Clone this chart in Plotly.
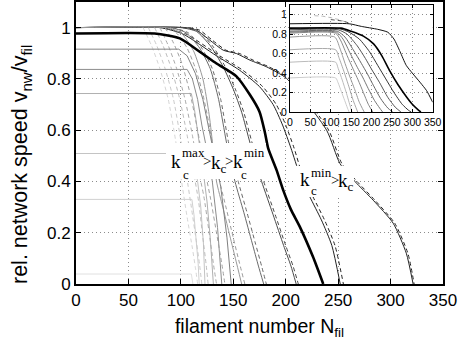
import plotly.graph_objects as go

# ---------------- data: main panel (filament number N, rel. speed v) ----------------
m1_n = [0, 110, 111.5]
m1_v = [0.039, 0.039, 0]
m2_n = [0, 110.5, 112.5, 114.5, 116.5, 117.5]
m2_v = [0.33, 0.33, 0.27, 0.18, 0.08, 0]
m3_n = [0, 110, 113, 116, 119, 121.5, 123]
m3_v = [0.509, 0.509, 0.46, 0.40, 0.30, 0.16, 0]
m4_n = [0, 110, 113, 116, 118, 121, 125, 128, 131]
m4_v = [0.743, 0.743, 0.68, 0.60, 0.53, 0.45, 0.32, 0.18, 0]
m5_n = [0, 106, 111, 116, 120, 125, 130, 135, 139]
m5_v = [0.837, 0.837, 0.80, 0.72, 0.62, 0.52, 0.40, 0.22, 0]
m6_n = [0, 98, 106, 114, 121, 127, 132, 138, 144, 148]
m6_v = [0.916, 0.916, 0.89, 0.82, 0.72, 0.60, 0.50, 0.38, 0.18, 0]
m7_n = [0, 85, 100, 112, 121, 127, 131, 134, 140, 146, 152, 158]
m7_v = [1.0, 1.0, 0.98, 0.91, 0.80, 0.66, 0.52, 0.40, 0.30, 0.20, 0.10, 0]
m8_n = [0, 90, 105, 118, 128, 136, 143.6, 151.6, 160, 168, 174, 179]
m8_v = [1.0, 1.0, 0.98, 0.92, 0.84, 0.72, 0.55, 0.40, 0.28, 0.16, 0.07, 0]
m9_n = [0, 100, 115, 128, 140, 150, 158, 166, 177, 188, 198, 205, 210]
m9_v = [1.0, 1.0, 0.985, 0.93, 0.85, 0.76, 0.67, 0.55, 0.40, 0.27, 0.15, 0.07, 0]
m10_n = [0, 75, 99, 118, 134, 153, 166, 175, 180, 183.3, 191.3, 197.6, 205, 213.5, 226, 235.8]
m10_v = [0.977, 0.977, 0.958, 0.906, 0.86, 0.81, 0.737, 0.672, 0.594, 0.529, 0.444, 0.366, 0.29, 0.223, 0.106, 0]
m11_n = [0, 80, 102, 134, 156, 175, 188, 197, 205, 213.5, 223, 234, 244, 252]
m11_v = [1.0, 1.0, 0.975, 0.89, 0.834, 0.77, 0.70, 0.62, 0.53, 0.425, 0.34, 0.25, 0.15, 0]
m12_n = [0, 105, 115, 127.7, 140.4, 153, 166, 181.8, 200.8, 239, 251.7, 266, 283.4, 302.5, 315, 321.5]
m12_v = [1.0, 1.0, 0.99, 0.951, 0.912, 0.899, 0.873, 0.847, 0.802, 0.60, 0.47, 0.40, 0.327, 0.237, 0.12, 0]

# dashed companions
d2_n = [64, 72, 80, 88, 95, 100.7, 106, 111, 114, 116]
d2_v = [1.0, 0.93, 0.84, 0.72, 0.56, 0.40, 0.26, 0.14, 0.06, 0]
d3_n = [69, 77, 85, 93, 100, 105.5, 110, 115, 118, 120]
d3_v = [1.0, 0.93, 0.84, 0.72, 0.56, 0.42, 0.30, 0.16, 0.07, 0]
d4_n = [75, 83, 91, 99, 106, 112, 117, 121, 124, 126]
d4_v = [1.0, 0.93, 0.84, 0.72, 0.58, 0.44, 0.32, 0.18, 0.08, 0]
d5_n = [80, 88, 96, 104, 111, 117, 122, 127, 131, 134]
d5_v = [1.0, 0.93, 0.84, 0.72, 0.58, 0.44, 0.34, 0.20, 0.08, 0]
d6_n = [85, 93, 101, 109, 116, 122, 128, 134, 139, 142]
d6_v = [1.0, 0.94, 0.86, 0.74, 0.60, 0.46, 0.34, 0.20, 0.08, 0]
d7_n = [90, 98, 106, 114, 121, 127, 132, 137, 143, 150, 156, 161]
d7_v = [1.0, 0.97, 0.92, 0.84, 0.74, 0.62, 0.50, 0.40, 0.30, 0.18, 0.08, 0]
d8_n = [92, 107, 120, 130, 138, 145.6, 154.7, 163, 171, 177, 181.5]
d8_v = [1.0, 0.98, 0.92, 0.84, 0.72, 0.55, 0.40, 0.28, 0.16, 0.07, 0]
d9_n = [102, 117, 130, 142, 152, 160, 168, 179, 190, 200, 207, 212]
d9_v = [1.0, 0.985, 0.93, 0.85, 0.76, 0.67, 0.55, 0.40, 0.27, 0.15, 0.07, 0]
d11_n = [84, 105, 137, 159, 178, 191, 200, 208, 216, 226, 237, 247, 255]
d11_v = [1.0, 0.975, 0.89, 0.834, 0.77, 0.70, 0.62, 0.53, 0.425, 0.34, 0.25, 0.15, 0]
d12_n = [108, 118, 130, 143, 156, 169, 184, 203, 241, 253.5, 268, 285, 304, 316.5, 322.5]
d12_v = [1.0, 0.99, 0.951, 0.912, 0.899, 0.873, 0.847, 0.802, 0.60, 0.47, 0.40, 0.327, 0.237, 0.12, 0]

# ---------------- data: inset ----------------
i1_n = [0, 145, 175, 215, 240, 255, 270, 285, 300, 320, 335, 350]
i1_v = [0.907, 0.907, 0.88, 0.85, 0.82, 0.75, 0.62, 0.48, 0.40, 0.30, 0.22, 0.10]
i2_n = [0, 125, 150, 180, 205, 225, 245, 265, 285, 300, 315, 321]
i2_v = [0.862, 0.862, 0.83, 0.78, 0.70, 0.58, 0.42, 0.28, 0.16, 0.08, 0.02, 0]
i3_n = [0, 122, 145, 170, 195, 215, 235, 255, 275, 290, 297]
i3_v = [0.855, 0.855, 0.82, 0.75, 0.62, 0.48, 0.34, 0.20, 0.08, 0.02, 0]
i4_n = [0, 118, 140, 165, 185, 200, 220, 240, 258, 272]
i4_v = [0.845, 0.845, 0.80, 0.68, 0.55, 0.44, 0.30, 0.15, 0.05, 0]
i5_n = [0, 116, 135, 155, 175, 190, 205, 222, 240, 252]
i5_v = [0.83, 0.83, 0.77, 0.64, 0.50, 0.39, 0.27, 0.14, 0.04, 0]
i6_n = [0, 114, 130, 148, 165, 178, 192, 207, 220, 227]
i6_v = [0.82, 0.82, 0.75, 0.60, 0.46, 0.36, 0.24, 0.12, 0.04, 0]
i7_n = [0, 112, 125, 140, 155, 167, 180, 192, 203]
i7_v = [0.81, 0.81, 0.73, 0.58, 0.44, 0.33, 0.20, 0.08, 0]
i8_n = [0, 110, 122, 135, 147, 158, 170, 182]
i8_v = [0.77, 0.77, 0.66, 0.50, 0.36, 0.24, 0.10, 0]
i9_n = [0, 112, 120, 132, 143, 155, 166]
i9_v = [0.64, 0.64, 0.56, 0.42, 0.28, 0.12, 0]
i10_n = [0, 112, 118, 128, 138, 147, 152]
i10_v = [0.512, 0.512, 0.45, 0.33, 0.20, 0.07, 0]
i11_n = [0, 112, 118, 126, 134, 141, 145]
i11_v = [0.35, 0.35, 0.30, 0.21, 0.12, 0.04, 0]
id1_n = [60, 80, 100, 120, 140]
id1_v = [0.99, 0.985, 0.97, 0.95, 0.92]
id2_n = [100, 115, 130, 145]
id2_v = [0.95, 0.945, 0.935, 0.915]

x_ticks = [0, 50, 100, 150, 200, 250, 300, 350]
y_ticks = [0, 0.2, 0.4, 0.6, 0.8, 1]
y_ticklabels = ["0", "0.2", "0.4", "0.6", "0.8", "1"]

# ---------------- figure ----------------
W, H = 459, 346
ML, MR, MT, MB = 76, 16, 2, 62
PW, PH = W - ML - MR, H - MT - MB

def px(x, y):
    return (x - ML) / PW, (H - MB - y) / PH

fig = go.Figure()

def add(n, v, color, width=1.0, dash="solid", xa="x", ya="y", smooth=False):
    line = dict(color=color, width=width, dash=dash)
    if smooth:
        line.update(shape="spline", smoothing=0.6)
    fig.add_trace(go.Scatter(x=n, y=v, mode="lines", xaxis=xa, yaxis=ya, line=line,
                             showlegend=False, hoverinfo="skip"))

DASH = "4px,3px"
# main: dark ones first so the grey plateau at 1 lies on top (as in the reference)
add(d12_n, d12_v, "#222222", dash=DASH, smooth=True)
add(m12_n, m12_v, "#222222", smooth=True)
add(d11_n, d11_v, "#222222", dash=DASH, smooth=True)
add(m11_n, m11_v, "#222222", smooth=True)
add(d9_n, d9_v, "#4a4a4a", dash=DASH, smooth=True)
add(m9_n, m9_v, "#4a4a4a", smooth=True)
add(d8_n, d8_v, "#6a6a6a", dash=DASH, smooth=True)
add(m8_n, m8_v, "#6a6a6a", smooth=True)
add(d7_n, d7_v, "#9c9c9c", dash=DASH, smooth=True)
add(m7_n, m7_v, "#999999", smooth=True)
add(m1_n, m1_v, "#e0e0e0")
add(d2_n, d2_v, "#d6d6d6", dash=DASH, smooth=True)
add(m2_n, m2_v, "#d0d0d0")
add(d3_n, d3_v, "#cacaca", dash=DASH, smooth=True)
add(m3_n, m3_v, "#c4c4c4")
add(d4_n, d4_v, "#bdbdbd", dash=DASH, smooth=True)
add(m4_n, m4_v, "#b0b0b0")
add(d5_n, d5_v, "#aaaaaa", dash=DASH, smooth=True)
add(m5_n, m5_v, "#8c8c8c")
add(d6_n, d6_v, "#a0a0a0", dash=DASH, smooth=True)
add(m6_n, m6_v, "#808080")
add(m10_n, m10_v, "#000000", width=2.6, smooth=True)

# inset
for n, v, c in [(i11_n, i11_v, "#cccccc"), (i10_n, i10_v, "#bbbbbb"),
                (i9_n, i9_v, "#aaaaaa"), (i8_n, i8_v, "#9a9a9a"),
                (i7_n, i7_v, "#888888"), (i6_n, i6_v, "#777777"),
                (i5_n, i5_v, "#666666"), (i4_n, i4_v, "#555555"),
                (i3_n, i3_v, "#333333")]:
    add(n, v, c, xa="x2", ya="y2", smooth=True)
add(id1_n, id1_v, "#bbbbbb", dash=DASH, xa="x2", ya="y2")
add(id2_n, id2_v, "#555555", dash=DASH, xa="x2", ya="y2")
add(i2_n, i2_v, "#000000", width=1.6, xa="x2", ya="y2", smooth=True)
add(i1_n, i1_v, "#111111", xa="x2", ya="y2", smooth=True)

FONT = "Liberation Sans, Arial, sans-serif"
SERIF = "Liberation Serif, Times New Roman, serif"

ax_common = dict(ticks="inside", tickcolor="black", showline=True, linecolor="black",
                 mirror="ticks", showgrid=True, gridcolor="#8c8c8c", griddash="1px,3px",
                 gridwidth=1, zeroline=False)

fig.update_layout(
    width=W, height=H,
    margin=dict(l=ML, r=MR, t=MT, b=MB, autoexpand=False),
    paper_bgcolor="white", plot_bgcolor="white",
    font=dict(family=FONT, color="black"),
    xaxis=dict(range=[0, 350], tickvals=x_ticks, ticklen=5, linewidth=1.8,
               tickfont=dict(size=17), domain=[0, 1],
               title=dict(text="filament number N<sub>fil</sub>", font=dict(size=19.5), standoff=10),
               **ax_common),
    yaxis=dict(range=[0, 1.1], tickvals=y_ticks, ticktext=y_ticklabels, ticklen=5,
               linewidth=1.8, tickfont=dict(size=17), domain=[0, 1], **ax_common),
    xaxis2=dict(range=[0, 350], tickvals=x_ticks, ticklen=3, linewidth=1.2,
                tickfont=dict(size=10.5), anchor="y2",
                domain=[px(290, 0)[0], px(432.7, 0)[0]], **ax_common),
    yaxis2=dict(range=[0, 1.1], tickvals=y_ticks, ticktext=y_ticklabels, ticklen=3,
                linewidth=1.2, tickfont=dict(size=10.5), anchor="x2",
                domain=[px(0, 112)[1], px(0, 5)[1]], **ax_common),
)

# y-axis title
ya, yb = px(21, 165)
fig.add_annotation(text="rel. network speed v<sub>nw</sub>/v<sub>fil</sub>", x=ya, y=yb,
                   xref="paper", yref="paper", showarrow=False, textangle=-90,
                   xanchor="center", yanchor="middle", font=dict(family=FONT, size=21.5))

# white label boxes
for (x0, y0, x1, y1) in [(166, 143, 266, 179), (296, 166, 354, 197)]:
    a0, b0 = px(x0, y1)
    a1, b1 = px(x1, y0)
    fig.add_shape(type="rect", xref="paper", yref="paper", x0=a0, x1=a1, y0=b0, y1=b1,
                  fillcolor="white", line=dict(width=0), layer="above")

def lab(text, x, y, size):
    a, b = px(x, y)
    fig.add_annotation(text=text, x=a, y=b, xref="paper", yref="paper", showarrow=False,
                       xanchor="center", yanchor="middle", borderpad=0,
                       font=dict(family=SERIF, size=size, color="black"))

# label 1: k_c^max > k_c > k_c^min
lab("k", 176, 161, 19)
lab("max", 193, 153, 13)
lab("c", 186, 174, 13)
lab(">", 206.5, 161, 15)
lab("k<sub>c</sub>", 219, 164, 19)
lab(">", 228.5, 161, 15)
lab("k", 237.5, 161, 19)
lab("min", 254, 153, 13)
lab("c", 244, 174, 13)
# label 2: k_c^min > k_c
lab("k", 305, 179, 19)
lab("min", 321, 172, 13)
lab("c", 313.5, 190, 13)
lab(">", 334.5, 180, 15)
lab("k<sub>c</sub>", 346, 182, 19)

fig.write_html("out.html", config={"displayModeBar": False},
               post_script="document.body.style.margin='0px';document.body.style.overflow='hidden';")
